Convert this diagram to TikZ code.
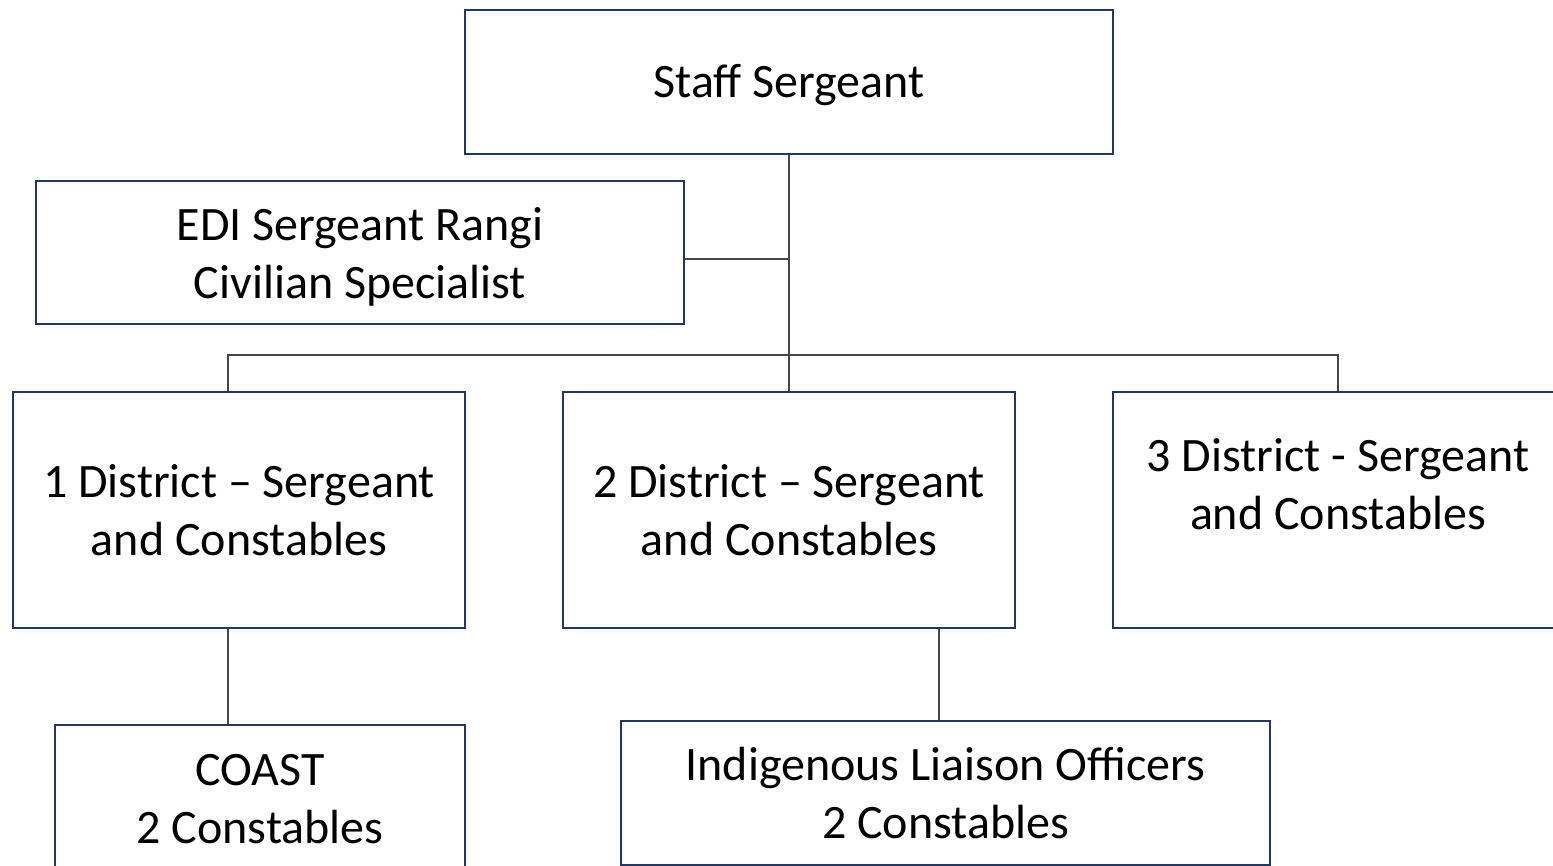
\documentclass[tikz,border=0pt]{standalone}
\usepackage{fontspec}
\setmainfont{Carlito}
\definecolor{boxblue}{RGB}{31,56,100}
\definecolor{linkgray}{RGB}{70,70,70}
\tikzset{every picture/.style={line width=0.75pt}}
\tikzset{
  unitbox/.style={draw=boxblue, line width=1.1pt, fill=white, rectangle, inner sep=0pt, align=center,
    font=\fontsize{24}{29.3}\selectfont},
  unittext/.style={inner sep=0pt, align=center, font=\fontsize{24}{29.3}\selectfont},
  link/.style={draw=linkgray, line width=0.6pt}
}

\begin{document}
\begin{tikzpicture}[x=0.5pt,y=0.5pt,yscale=-1,xscale=1]
	\useasboundingbox (0,0) rectangle (1553,866);

	% Text Node
	\node [unitbox, minimum width=324pt, minimum height=72pt] (staff) at (789,82) {};
	\node [unittext] (stafflabel) at (789,85) {Staff Sergeant};
	% Text Node
	\node [unitbox, minimum width=324pt, minimum height=71.5pt] (edi) at (360,252.5) {};
	\node [unittext] (edilabel) at (360,257) {EDI Sergeant Rangi\\Civilian Specialist};

	% Shape: Rectangle (districts)
	\node [unitbox, minimum width=226pt, minimum height=118pt] (d1) at (239,510) {1 District -- Sergeant\\and Constables};
	\node [unitbox, minimum width=226pt, minimum height=118pt] (d2) at (789,510) {2 District -- Sergeant\\and Constables};
	\node [unitbox, minimum width=226pt, minimum height=118pt] (d3) at (1339,510) {};
	\node [unittext] (d3label) at (1338,484) {3 District - Sergeant\\and Constables};

	% Text Node
	\node [unitbox, minimum width=205pt, minimum height=80pt] (coast) at (260,805) {};
	\node [unittext] (coastlabel) at (260,799) {COAST\\2 Constables};
	% Text Node
	\node [unitbox, minimum width=324.5pt, minimum height=72pt] (ilo) at (945.5,793) {Indigenous Liaison Officers\\2 Constables};

	% Straight Lines
	\coordinate (bus) at (789,355);
	\coordinate (k1) at (228,355);
	\coordinate (k2) at (789,259);
	\coordinate (k3) at (1338,355);
	\coordinate (k4) at (939,700);
	\draw [link] (staff.south) -- (d2.north);
	\draw [link] (edi.east |- k2) -- (k2);
	\draw [link] (k1 |- d1.north) -- (k1) -- (k3) -- (k3 |- d3.north);
	\draw [link] (k1 |- d1.south) -- (k1 |- coast.north);
	\draw [link] (k4 |- d2.south) -- (k4 |- ilo.north);

\end{tikzpicture}
\end{document}
